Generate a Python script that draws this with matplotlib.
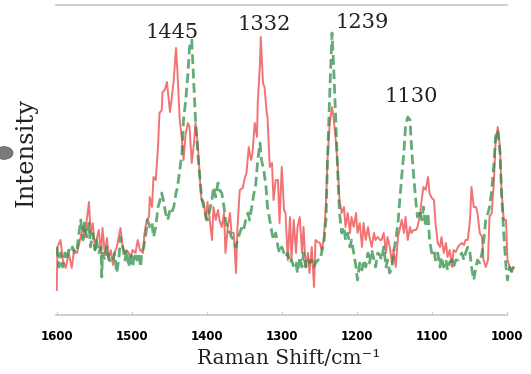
import matplotlib
matplotlib.use("Agg")
import matplotlib.pyplot as plt
from matplotlib.patches import Circle

# ---- data ----
red_shift = [1600, 1599, 1595, 1592, 1588, 1584, 1580, 1577, 1573, 1569, 1565, 1563, 1560, 1557,
             1555, 1552, 1549, 1547, 1544, 1541, 1539, 1536, 1533, 1531, 1528, 1525, 1523, 1520,
             1515, 1512, 1509, 1507, 1504, 1501, 1499, 1495, 1492, 1489, 1485, 1483, 1480, 1477,
             1476, 1473, 1471, 1468, 1465, 1463, 1460, 1459, 1456, 1453, 1452, 1449, 1447, 1444,
             1441, 1439, 1436, 1433, 1431, 1428, 1425, 1423, 1420, 1417, 1415, 1412, 1409, 1407,
             1404, 1401, 1399, 1396, 1393, 1391, 1388, 1385, 1383, 1380, 1377, 1375, 1372, 1369,
             1367, 1364, 1361, 1359, 1356, 1352, 1349, 1347, 1344, 1341, 1339, 1336, 1333, 1332,
             1329, 1328, 1325, 1323, 1320, 1319, 1316, 1313, 1311, 1308, 1305, 1303, 1300, 1297,
             1295, 1292, 1289, 1287, 1284, 1281, 1279, 1276, 1273, 1271, 1268, 1265, 1263, 1260,
             1257, 1255, 1252, 1249, 1247, 1244, 1241, 1239, 1236, 1233, 1231, 1228, 1225, 1223,
             1220, 1217, 1215, 1212, 1209, 1207, 1204, 1201, 1199, 1196, 1193, 1191, 1188, 1185,
             1183, 1180, 1177, 1175, 1172, 1169, 1167, 1164, 1161, 1159, 1156, 1153, 1151, 1148,
             1145, 1143, 1140, 1137, 1135, 1132, 1129, 1127, 1124, 1121, 1119, 1116, 1113, 1111,
             1108, 1105, 1103, 1100, 1097, 1095, 1092, 1089, 1087, 1084, 1081, 1079, 1076, 1073,
             1071, 1068, 1065, 1063, 1060, 1057, 1055, 1052, 1049, 1047, 1044, 1041, 1039, 1036,
             1033, 1031, 1028, 1025, 1023, 1020, 1017, 1015, 1012, 1009, 1007, 1004, 1001, 999,
             996, 993, 991]
red_intensity = [25, 68, 75, 55, 47, 62, 47, 65, 62, 75, 88, 78, 95, 113,
                 82, 92, 65, 75, 85, 62, 87, 62, 77, 55, 65, 50, 62, 68,
                 87, 68, 62, 65, 62, 58, 65, 62, 75, 65, 62, 82, 95, 98,
                 118, 108, 138, 135, 168, 202, 205, 223, 225, 233, 225, 203, 215, 235,
                 267, 242, 195, 175, 155, 182, 192, 188, 152, 172, 192, 172, 135, 115,
                 113, 95, 113, 95, 75, 108, 95, 105, 95, 88, 102, 62, 88, 102,
                 82, 82, 42, 88, 125, 127, 138, 142, 168, 155, 162, 192, 178, 212,
                 252, 278, 232, 228, 202, 198, 148, 152, 115, 135, 135, 92, 148, 105,
                 102, 55, 98, 55, 95, 62, 88, 98, 62, 88, 48, 62, 42, 68,
                 28, 75, 73, 72, 65, 75, 112, 155, 192, 208, 198, 175, 145, 115,
                 102, 108, 88, 102, 82, 98, 88, 102, 82, 92, 68, 92, 75, 88,
                 78, 68, 82, 75, 78, 75, 75, 82, 62, 78, 68, 52, 65, 48,
                 78, 85, 95, 82, 98, 75, 88, 82, 85, 85, 88, 98, 118, 128,
                 125, 138, 122, 117, 115, 92, 72, 68, 78, 62, 72, 58, 65, 48,
                 65, 63, 68, 70, 72, 70, 75, 75, 95, 128, 108, 108, 102, 82,
                 78, 55, 48, 55, 98, 102, 135, 172, 188, 168, 125, 95, 95, 55,
                 48, 43, 48]

green_shift = [1600, 1597, 1595, 1592, 1589, 1587, 1584, 1581, 1579, 1576, 1573, 1571, 1568, 1565,
               1563, 1560, 1557, 1555, 1552, 1549, 1547, 1544, 1541, 1540, 1539, 1536, 1533, 1531,
               1528, 1525, 1523, 1520, 1517, 1515, 1512, 1509, 1507, 1504, 1501, 1499, 1496, 1493,
               1491, 1488, 1487, 1484, 1481, 1479, 1476, 1473, 1471, 1468, 1465, 1463, 1460, 1457,
               1455, 1452, 1449, 1447, 1444, 1441, 1439, 1436, 1433, 1431, 1428, 1425, 1423, 1420,
               1417, 1415, 1412, 1409, 1407, 1404, 1401, 1399, 1396, 1393, 1391, 1388, 1385, 1383,
               1380, 1377, 1375, 1372, 1369, 1367, 1364, 1361, 1359, 1356, 1353, 1351, 1348, 1345,
               1343, 1340, 1337, 1335, 1332, 1329, 1327, 1324, 1321, 1319, 1316, 1313, 1311, 1308,
               1305, 1303, 1300, 1297, 1295, 1292, 1289, 1287, 1284, 1281, 1279, 1276, 1273, 1271,
               1268, 1265, 1263, 1260, 1257, 1255, 1252, 1249, 1247, 1244, 1241, 1239, 1236, 1233,
               1231, 1228, 1225, 1223, 1220, 1217, 1215, 1212, 1209, 1207, 1204, 1201, 1199, 1196,
               1193, 1191, 1188, 1185, 1183, 1180, 1177, 1175, 1172, 1169, 1167, 1164, 1161, 1159,
               1156, 1153, 1151, 1148, 1145, 1143, 1140, 1137, 1135, 1132, 1129, 1127, 1124, 1121,
               1119, 1116, 1113, 1111, 1108, 1105, 1103, 1100, 1097, 1095, 1092, 1089, 1087, 1084,
               1081, 1079, 1076, 1073, 1071, 1068, 1065, 1063, 1060, 1057, 1055, 1052, 1049, 1047,
               1044, 1041, 1039, 1036, 1033, 1031, 1028, 1025, 1023, 1020, 1017, 1015, 1012, 1009,
               1007, 1004, 1001, 999, 996, 993, 991]
green_intensity = [68, 48, 62, 48, 62, 55, 65, 62, 68, 62, 65, 78, 95, 75,
                   92, 78, 92, 68, 82, 65, 75, 62, 68, 38, 62, 55, 68, 58,
                   52, 55, 62, 42, 58, 78, 68, 55, 65, 48, 62, 48, 62, 55,
                   62, 48, 62, 68, 82, 95, 88, 92, 78, 88, 108, 113, 122, 112,
                   102, 95, 105, 102, 108, 122, 128, 145, 162, 195, 215, 242, 268, 275,
                   228, 195, 162, 135, 118, 108, 98, 95, 105, 115, 128, 118, 132, 125,
                   122, 108, 95, 85, 82, 78, 75, 68, 75, 82, 88, 85, 95, 102,
                   95, 108, 122, 128, 155, 172, 155, 145, 128, 108, 95, 82, 75, 82,
                   68, 62, 68, 62, 58, 62, 52, 55, 48, 52, 42, 58, 48, 62,
                   48, 55, 52, 55, 48, 52, 55, 55, 62, 72, 95, 155, 222, 282,
                   252, 195, 135, 102, 82, 88, 75, 82, 68, 75, 62, 48, 35, 52,
                   45, 55, 48, 62, 52, 65, 55, 48, 62, 60, 55, 68, 48, 55,
                   42, 48, 62, 75, 92, 112, 138, 165, 188, 198, 195, 168, 138, 112,
                   98, 105, 95, 108, 88, 102, 75, 62, 65, 55, 62, 48, 58, 48,
                   55, 45, 53, 55, 48, 55, 55, 58, 62, 55, 62, 68, 62, 48,
                   35, 48, 55, 52, 62, 72, 95, 102, 108, 125, 152, 178, 185, 162,
                   122, 82, 48, 35, 48, 42, 48]

tick_values = [1600, 1500, 1400, 1300, 1200, 1100, 1000]
peak_labels = ["1445", "1332", "1239", "1130"]
peak_label_x = [1447, 1323, 1193, 1128]
peak_label_y = [282, 290, 292, 219]

# ---- figure ----
W, H = 531, 374
fig = plt.figure(figsize=(W / 100, H / 100), dpi=100)
ax = fig.add_axes([56 / W, 1 - 315 / H, (515 - 56) / W, (315 - 5) / H])

ax.plot(red_shift, red_intensity, color="#f05a5a", lw=1.4, alpha=0.85, zorder=2)
ax.plot(green_shift, green_intensity, color="#2f8f4a", lw=2.0, alpha=0.75,
        linestyle=(0, (3.5, 1.7)), zorder=3)

ax.set_xlim(1601, 989)
ax.set_ylim(0, 310)
ax.set_xticks(tick_values)
ax.set_xticklabels([str(t) for t in tick_values], fontsize=8.5, fontweight="bold",
                   family="DejaVu Sans")
ax.set_yticks([])
ax.tick_params(axis="x", direction="in", length=3, color="#d0d0d0", pad=11)

for s in ["left", "right"]:
    ax.spines[s].set_visible(False)
for s in ["top", "bottom"]:
    ax.spines[s].set_color("#c8c8c8")
    ax.spines[s].set_linewidth(1.2)
    ax.spines[s].set_bounds(1601, 1000)

serif = ["DejaVu Serif"]
for lab, lx, ly in zip(peak_labels, peak_label_x, peak_label_y):
    ax.text(lx, ly, lab, ha="center", va="center", fontsize=15, family=serif,
            color="#222222", zorder=4)

fig.text(289 / W, 1 - 364 / H, "Raman Shift/cm\u207b\u00b9", ha="center", va="baseline",
         fontsize=14.5, family=serif, color="#222222")
fig.text(26 / W, 1 - 152 / H, "Intensity", ha="center", va="center", rotation=90,
         fontsize=17.5, family=serif, color="#222222")

# grey ball at the left edge
ball = Circle((4 / W, 1 - 153 / H), 9 / W, transform=fig.transFigure,
              facecolor="#7a7a7a", edgecolor="#555555", lw=0.5)
fig.patches.append(ball)

fig.savefig("out.png", dpi=100)
